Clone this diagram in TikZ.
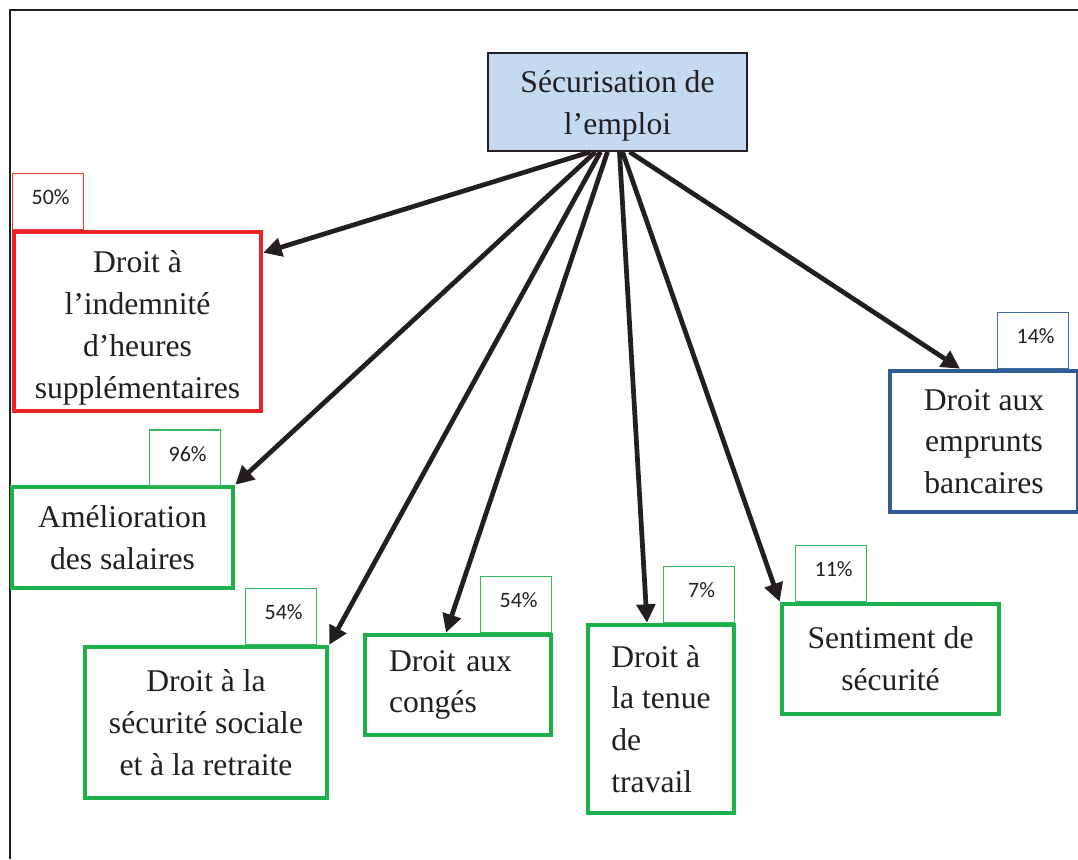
\documentclass[tikz,border=0pt]{standalone}
\usepackage{fontspec}
\setmainfont{Liberation Serif}
\newfontfamily\pctfont{Carlito}
\usepackage{tikz}
\usetikzlibrary{arrows.meta}
\usetikzlibrary{calc}
\tikzstyle{line} = [draw, line width=2.7pt, -{Triangle[length=10.5pt,width=10.5pt]}]
\definecolor{rouge}{RGB}{237,34,36}
\definecolor{vert}{RGB}{29,177,76}
\definecolor{bleu}{RGB}{47,91,150}
\definecolor{ciel}{RGB}{197,217,241}
\definecolor{encre}{RGB}{35,31,32}

\begin{document}
\begin{tikzpicture}[x=0.02cm, y=-0.02cm,
		box/.style = {draw, line width=2.6pt, fill=white, text=encre,
			align=center, inner sep=0pt,
			font=\fontsize{18}{23.8}\selectfont},
		pct/.style = {draw, line width=0.8pt, fill=white, text=encre,
			minimum width=1.42cm, minimum height=1.12cm, inner sep=0pt,
			text depth=5pt, execute at begin node=\hspace{3pt},
			font=\pctfont\fontsize{12.5}{14}\selectfont}]
		
		\useasboundingbox (0,0) rectangle (1078,859);
		\clip (0,0) rectangle (1078,859);
		
		% Frame
		\draw[encre, line width=1pt] (10,859) -- (10,10) -- (1078,10);
		
		% Root
		\node[box, fill=ciel, draw=encre, line width=1pt,
			minimum width=5.18cm, minimum height=1.96cm] (emploi) at (617.5,102)
			{\rule{0pt}{17pt}Sécurisation de\\l’emploi};
		
		% Rights
		\node[box, draw=rouge, minimum width=4.94cm, minimum height=3.58cm]
			(heures) at (137.5,321.5)
			{\rule{0pt}{20pt}Droit à\\l’indemnité\\d’heures\\supplémentaires};
		\node[box, draw=vert, minimum width=4.42cm, minimum height=2.02cm]
			(salaires) at (122.5,537.5) {Amélioration\\des salaires};
		\node[box, draw=vert, minimum width=4.84cm, minimum height=3.02cm]
			(retraite) at (206,722.5)
			{Droit à la\\sécurité sociale\\et à la retraite};
		\node[box, draw=vert, align=left, text width=2.76cm,
			minimum width=3.72cm, minimum height=2.0cm]
			(conges) at (458,685) {Droit aux\\congés};
		\node[box, draw=vert, align=left,
			minimum width=2.92cm, minimum height=3.76cm]
			(tenue) at (661,719) {Droit à\\la tenue\\de\\travail};
		\node[box, draw=vert, minimum width=4.34cm, minimum height=2.2cm]
			(securite) at (890.5,659) {Sentiment de\\sécurité};
		\node[box, draw=bleu, minimum width=3.76cm, minimum height=2.82cm]
			(emprunts) at (984,441.5) {Droit aux\\emprunts\\bancaires};
		
		% Percentages
		\node[pct, draw=rouge!90] (p50) at (48,201.5) {50\%};
		\node[pct, draw=vert!90] (p96) at (185,458) {96\%};
		\node[pct, draw=vert!90] (p54a) at (281,616.5) {54\%};
		\node[pct, draw=vert!90] (p54b) at (516,604.5) {54\%};
		\node[pct, draw=vert!90] (p7) at (699,594.5) {7\%};
		\node[pct, draw=vert!90] (p11) at (831,573.5) {11\%};
		\node[pct, draw=bleu!90] (p14) at (1033,340.5) {14\%};
		
		% Arrows
		\path[line, encre] ($(emploi.south)+(-27,0)$) -- ($(heures.north east)+(0,23)$);
		\path[line, encre] ($(emploi.south)+(-22,0)$) -- (salaires.north east);
		\path[line, encre] ($(emploi.south)+(-17,0)$) -- (retraite.north east);
		\path[line, encre] ($(emploi.south)+(-10,0)$) -- ($(conges.north)+(-12,0)$);
		\path[line, encre] ($(emploi.south)+(2,0)$) -- ($(tenue.north)+(-14,0)$);
		\path[line, encre] ($(emploi.south)+(5,0)$) -- (securite.north west);
		\path[line, encre] ($(emploi.south)+(12,0)$) -- ($(emprunts.north)+(-24,0)$);
	\end{tikzpicture}
\end{document}
